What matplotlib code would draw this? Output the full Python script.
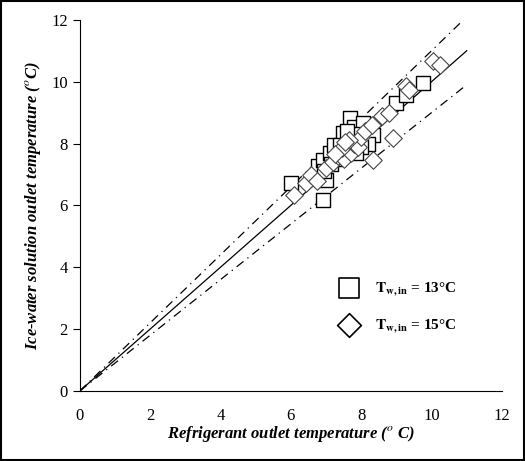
import numpy as np
import matplotlib
matplotlib.use("Agg")
import matplotlib.pyplot as plt
from matplotlib.patches import Rectangle

plt.rcParams["font.family"] = ["Liberation Serif", "DejaVu Serif"]
plt.rcParams["mathtext.fontset"] = "stix"

# T_w,in = 13 C (squares)
SQ_X = [6.0, 6.9, 6.77, 6.9, 7.0, 7.1, 7.24, 7.47, 7.67, 7.8, 8.05, 8.33, 8.2,
        7.3, 7.55, 7.7, 7.9, 7.4, 7.6, 7.15, 6.95, 9.0, 9.28, 9.75, 8.0, 7.85]
SQ_Y = [6.72, 6.18, 7.26, 7.48, 6.83, 7.7, 7.96, 8.35, 8.83, 8.55, 8.66, 8.28, 8.0,
        7.5, 7.75, 8.1, 8.3, 7.95, 8.4, 7.35, 7.1, 9.3, 9.58, 9.97, 7.9, 7.7]

# T_w,in = 15 C (diamonds)
DI_X = [6.1, 6.44, 6.58, 6.75, 7.0, 7.2, 7.35, 7.5, 7.6, 7.7, 7.8, 7.9, 8.0, 7.45,
        7.65, 8.1, 8.33, 8.9, 8.3, 8.6, 8.8, 9.28, 9.37, 10.03, 10.23, 7.25, 7.55]
DI_Y = [6.34, 6.72, 6.99, 6.8, 7.2, 7.4, 7.6, 7.5, 7.85, 7.7, 8.0, 7.9, 8.2, 7.85,
        8.1, 8.4, 7.48, 8.18, 8.6, 8.88, 9.0, 9.85, 9.74, 10.66, 10.55, 7.65, 8.05]

LINE_X = [0, 11]

fig = plt.figure(figsize=(5.25, 4.61), dpi=100)
ax = fig.add_axes([0.152, 0.152, 0.804, 0.805])

ax.plot(LINE_X, LINE_X, color="black", linewidth=0.9)
ax.plot(LINE_X, [1.1 * v for v in LINE_X], color="black", linewidth=0.9,
        linestyle=(0, (7, 4, 1, 4)))
ax.plot(LINE_X, [0.9 * v for v in LINE_X], color="black", linewidth=0.9,
        linestyle=(0, (7, 4, 1, 4)))

ax.scatter(SQ_X, SQ_Y, marker="s", s=110, facecolors="white",
           edgecolors="black", linewidths=1.0, label=r"$\mathbf{T_{w,in}}$ = 13°C", zorder=3)
ax.scatter(DI_X, DI_Y, marker="D", s=80, facecolors="white",
           edgecolors="#444444", linewidths=0.8, label=r"$\mathbf{T_{w,in}}$ = 15°C", zorder=3)

ax.set_xlim(0, 12)
ax.set_ylim(0, 12)
ax.set_xticks(range(0, 13, 2))
ax.set_yticks(range(0, 13, 2))
ax.tick_params(direction="out", length=5, labelsize=12)
ax.tick_params(axis="x", pad=12, length=0)
ax.spines["top"].set_visible(False)
ax.spines["right"].set_visible(False)

ax.set_xlabel("Refrigerant outlet temperature ($^{o}$ C)", fontsize=12,
              fontstyle="italic", fontweight="bold", labelpad=0)
ax.set_ylabel("Ice-water solution outlet temperature ($^{o}$C)", fontsize=12,
              fontstyle="italic", fontweight="bold", labelpad=6)

leg = ax.legend(loc="lower right", bbox_to_anchor=(0.925, 0.115), frameon=False,
                prop={"weight": "bold", "size": 11}, labelspacing=1.2,
                handletextpad=0.7, scatterpoints=1, markerscale=1.35)
for h in leg.legend_handles:
    h.set_edgecolor("black")
    h.set_linewidth(1.2)

fig.patches.append(Rectangle((0.002, 0.002), 0.996, 0.996, transform=fig.transFigure,
                             fill=False, edgecolor="black", linewidth=1.5))

fig.savefig("out.png", dpi=100)
